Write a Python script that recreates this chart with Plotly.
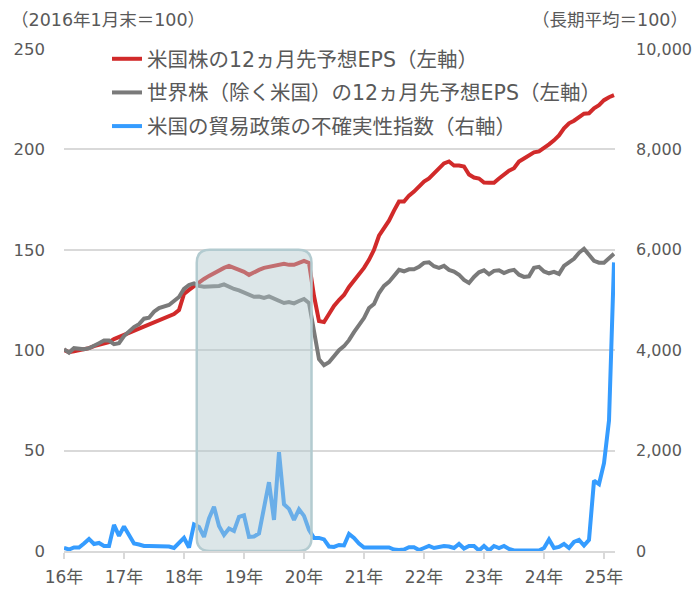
import plotly.graph_objects as go

# Monthly data, 2016-01 .. 2025-03 (month index 0..110)
us_eps = [100, 99, 99.5, 100, 100.5, 101, 102, 102.5, 103.5, 104, 105.5, 106.5,
          107.5, 109, 110, 111, 112, 113, 114, 115, 116, 117, 118, 120,
          128, 130, 132, 134, 135.5, 137, 138.5, 139.5, 141, 142, 141, 140.5,
          139, 137.5, 139, 140, 141, 141.5, 142, 142.5, 143, 142.5, 142.5, 143.5,
          144.5, 143.5, 127, 114.5, 114, 118, 122, 125, 127.5, 131.5, 134.5, 137.5,
          141, 145, 150, 157, 161, 164.5, 169.5, 174, 174, 177, 179, 181.5,
          184, 185.5, 188, 191, 193, 194, 192, 192, 191.5, 187.5, 186, 185.5,
          183.5, 183.4, 183.4, 185.5, 187.5, 189.4, 190.6, 194, 195.5, 197, 198.5, 199,
          200.5, 202.5, 204.5, 207, 210.5, 213, 214.3, 216, 217.8, 218, 220.5, 222,
          224.5, 226, 227]

world_ex_us_eps = [100.5, 98.8, 101, 100.5, 100.5, 101, 102, 103.5, 104.8, 104.8, 103, 103.5,
                   107, 109.5, 111.5, 113, 115.7, 116.2, 119.2, 121, 121.7, 122.5, 124.5, 126.5,
                   130.5, 132.5, 133.3, 132, 131.6, 131.6, 131.6, 132, 132.8, 131.5, 130.5, 129.8,
                   128.8, 127.8, 126.6, 126.7, 126, 126.8, 125.8, 124.8, 123.5, 124, 123.3, 124.5,
                   125.5, 123.5, 110, 95.5, 92.5, 94, 97, 100, 102, 105, 109, 112.5,
                   116, 121, 123, 128.5, 132, 134, 137, 140, 139.3, 140.3, 140.3, 141.5,
                   143.5, 143.8, 141.8, 141, 142, 140, 139.2, 137.6, 135, 133.5, 136.5, 138.8,
                   139.8, 137.8, 139.5, 139.8, 138.4, 139.5, 140, 137.6, 136.5, 136.8, 141, 141.5,
                   139.2, 138.3, 139, 138, 142, 143.5, 145.5, 148.5, 150.5, 147.5, 144.5, 143.6,
                   143.6, 145.8, 148]

trade_uncertainty = [60, 30, 70, 70, 150, 240, 140, 160, 100, 100, 520, 300,
                     490, 300, 150, 130, 100, 100, 100, 100, 100, 90, 60, 170,
                     260, 70, 530, 480, 280, 650, 880, 500, 320, 450, 400, 680,
                     710, 280, 290, 350, 900, 1370, 620, 1970, 930, 840, 620, 830,
                     700, 420, 260, 260, 230, 90, 80, 120, 110, 340, 260, 150,
                     70, 70, 70, 70, 70, 70, 30, 20, 30, 75, 75, 20,
                     60, 100, 60, 75, 100, 90, 60, 140, 50, 100, 100, 10,
                     100, 10, 100, 60, 100, 40, 10, 10, 10, 10, 10, 10,
                     60, 230, 60, 80, 140, 60, 180, 220, 110, 220, 1400, 1330,
                     1750, 2600, 5750]

months = list(range(len(us_eps)))
tick_vals = [0, 12, 24, 36, 48, 60, 72, 84, 96, 108]
tick_text = ["16年", "17年", "18年", "19年", "20年", "21年", "22年", "23年", "24年", "25年"]

names = ["米国株の12ヵ月先予想EPS（左軸）",
         "世界株（除く米国）の12ヵ月先予想EPS（左軸）",
         "米国の貿易政策の不確実性指数（右軸）"]

# shaded period (month index)
shade_start, shade_end = 26.55, 49.5
shade_top = 150

FONT = "DejaVu Sans, Noto Sans CJK JP, sans-serif"
TXT = "#595959"
GRID = "#d9d9d9"

fig = go.Figure()
fig.add_trace(go.Scatter(x=months, y=us_eps, name=names[0], mode="lines",
                         line=dict(color="#d12a2a", width=4), legendgroup="a"))
fig.add_trace(go.Scatter(x=months, y=world_ex_us_eps, name=names[1], mode="lines",
                         line=dict(color="#7a7a7a", width=4), legendgroup="b"))
fig.add_trace(go.Scatter(x=months, y=trade_uncertainty, name=names[2], mode="lines",
                         line=dict(color="#359cff", width=4), yaxis="y2", legendgroup="c"))

# rounded rectangle
rx, ry = 2.6, 6.5
x0, x1, y0, y1 = shade_start, shade_end, 0, shade_top
path = (f"M{x0+rx},{y0} L{x1-rx},{y0} Q{x1},{y0} {x1},{y0+ry} "
        f"L{x1},{y1-ry} Q{x1},{y1} {x1-rx},{y1} L{x0+rx},{y1} "
        f"Q{x0},{y1} {x0},{y1-ry} L{x0},{y0+ry} Q{x0},{y0} {x0+rx},{y0} Z")
fig.add_shape(type="path", path=path, xref="x", yref="y", layer="above",
              fillcolor="rgba(175,198,202,0.44)",
              line=dict(color="#b3cbd0", width=2.5))

fig.update_layout(
    width=692, height=581,
    margin=dict(l=56, r=85, t=41, b=38, autoexpand=False),
    paper_bgcolor="white", plot_bgcolor="white",
    font=dict(family=FONT, size=17, color=TXT),
    showlegend=True,
    legend=dict(x=0.078, y=1.02, xanchor="left", yanchor="top",
                bgcolor="rgba(0,0,0,0)",
                font=dict(size=20.5, color=TXT), tracegroupgap=4),
    xaxis=dict(range=[0, 110.2], tickvals=tick_vals, ticktext=tick_text,
               showgrid=False, zeroline=False, showline=True, linecolor=GRID,
               linewidth=2, ticks="outside", ticklen=6, tickcolor=GRID, tickwidth=2,
               ticklabelstandoff=4,
               tickfont=dict(size=17, color=TXT), automargin=False),
    yaxis=dict(range=[0, 250], tickvals=[0, 50, 100, 150, 200, 250],
               showgrid=True, gridcolor=GRID, gridwidth=2, zeroline=False,
               ticks="", ticklabelstandoff=18, tickfont=dict(size=16.5, color=TXT),
               automargin=False),
    yaxis2=dict(range=[0, 10000], tickvals=[0, 2000, 4000, 6000, 8000, 10000],
                tickformat=",", overlaying="y", side="right", showgrid=False,
                zeroline=False, ticks="", ticklabelstandoff=20,
                tickfont=dict(size=16, color=TXT), automargin=False),
    annotations=[
        dict(text="（2016年1月末＝100）", xref="paper", yref="paper",
             x=0, y=1, xanchor="left", yanchor="bottom", yshift=17,
             xshift=-55, showarrow=False, font=dict(size=17.5, color=TXT)),
        dict(text="（長期平均＝100）", xref="paper", yref="paper",
             x=1, y=1, xanchor="right", yanchor="bottom", yshift=17,
             xshift=75, showarrow=False, font=dict(size=17.5, color=TXT)),
    ],
)

fig.write_html("out.html")
